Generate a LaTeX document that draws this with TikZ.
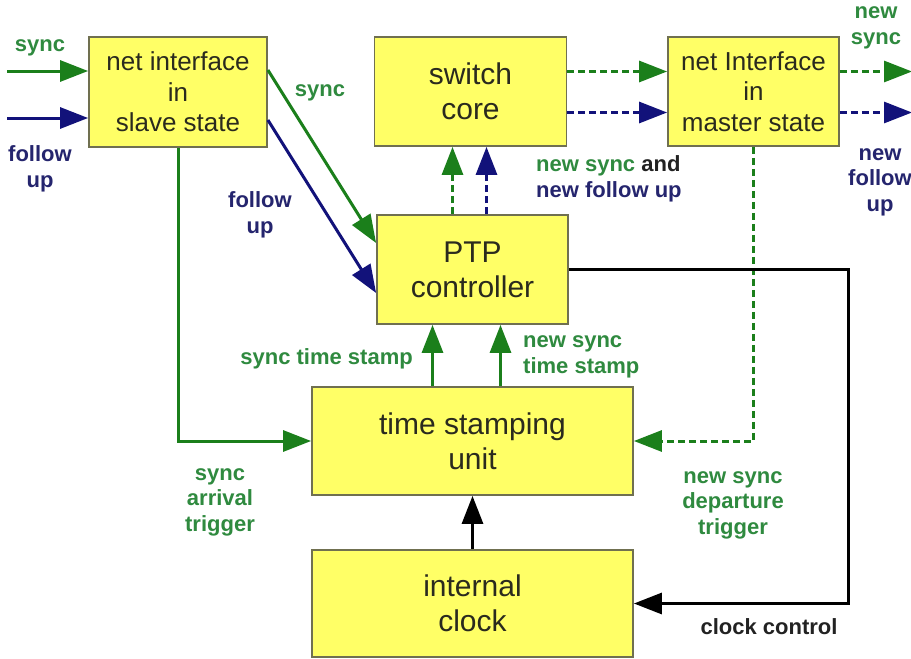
\documentclass[tikz,border=0pt]{standalone}
\usepackage{fontspec}
\setmainfont{Liberation Sans}
\usetikzlibrary{arrows.meta}
\definecolor{boxfill}{HTML}{FFFF66}
\definecolor{boxline}{HTML}{707050}
\definecolor{boxtext}{HTML}{2A2A1E}
\definecolor{agreen}{HTML}{1B7F1B}
\definecolor{lgreen}{HTML}{2F8A3F}
\definecolor{anavy}{HTML}{12127A}
\definecolor{lnavy}{HTML}{25256E}
\definecolor{dark}{HTML}{222222}
\begin{document}
\begin{tikzpicture}[x=1pt,y=-1pt,
  box/.style={draw=boxline, line width=1.8pt, fill=boxfill, align=center, text=boxtext, inner sep=0pt},
  bigtext/.style={font=\fontsize{30}{35}\selectfont},
  iftext/.style={font=\fontsize{26}{30.5}\selectfont},
  lbl/.style={font=\bfseries\fontsize{22}{25.5}\selectfont, align=center, inner sep=0pt},
  conn/.style={line width=3pt, -{Triangle[length=28pt,width=21pt]}},
  dconn/.style={conn, dash pattern=on 7pt off 4pt},
  gconn/.style={conn, draw=agreen},
  bconn/.style={conn, draw=anavy},
  kconn/.style={conn, draw=black},
  gdconn/.style={dconn, draw=agreen},
  bdconn/.style={dconn, draw=anavy}]
\useasboundingbox (0,0) rectangle (911,659);
\fill[white] (0,0) rectangle (911,659);

% boxes
\node[box, iftext, minimum width=178pt, minimum height=110pt] (slave) at (178,92) {net interface\\in\\slave state};
\node[box, bigtext, minimum width=192pt, minimum height=109pt] (switch) at (470.5,91.5) {switch\\core};
\node[box, iftext, minimum width=171pt, minimum height=109pt] (master) at (753.5,91.5) {net Interface\\in\\master state};
\node[box, bigtext, minimum width=191pt, minimum height=109pt] (ptp) at (472.5,269.5) {PTP\\controller};
\node[box, bigtext, minimum width=321pt, minimum height=108pt] (tsu) at (472.5,441) {time stamping\\unit};
\node[box, bigtext, minimum width=321pt, minimum height=107pt] (clock) at (472.5,603.5) {internal\\clock};

% free ends
\coordinate (in1) at (7,71);
\coordinate (in2) at (7,118);
\coordinate (out1) at (912,71.5);
\coordinate (out2) at (912,112.5);
\coordinate (cc) at (848,269.5);

% connectors
\draw[gconn] (in1) -- (in1 -| slave.west);
\draw[bconn] (in2) -- (in2 -| slave.west);
\draw[gconn] ([yshift=22pt]slave.east) -- ([yshift=26.5pt]ptp.west);
\draw[bconn] ([yshift=-28pt]slave.east) -- ([yshift=-23.5pt]ptp.west);
\draw[gconn] (slave.south) |- (tsu.west);
\draw[gdconn] ([xshift=-20pt]ptp.north) -- ([xshift=-20pt]ptp.north |- switch.south);
\draw[bdconn] ([xshift=14pt]ptp.north) -- ([xshift=14pt]ptp.north |- switch.south);
\draw[gdconn] ([yshift=20pt]switch.east) -- ([yshift=20pt]switch.east -| master.west);
\draw[bdconn] ([yshift=-21pt]switch.east) -- ([yshift=-21pt]switch.east -| master.west);
\draw[gdconn] (out1 -| master.east) -- (out1);
\draw[bdconn] (out2 -| master.east) -- (out2);
\draw[gdconn] (master.south) |- (tsu.east);
\draw[gconn] ([xshift=-40pt]tsu.north) -- ([xshift=-40pt]tsu.north |- ptp.south);
\draw[gconn] ([xshift=28pt]tsu.north) -- ([xshift=28pt]tsu.north |- ptp.south);
\draw[kconn] (clock.north) -- (tsu.south);
\draw[kconn] (ptp.east) -- (cc) |- (clock.east);

% labels
\node[lbl, text=lgreen] (l1) at (40,48) {sync};
\node[lbl, text=lnavy] (l2) at (40,169) {follow\\up};
\node[lbl, text=lgreen] (l3) at (320,93) {sync};
\node[lbl, text=lnavy] (l4) at (260,215) {follow\\up};
\node[lbl, align=left, anchor=west, text=dark] (l5) at (536,179) {\textcolor{lgreen}{new sync} and\\\textcolor{lnavy}{new follow up}};
\node[lbl, text=lgreen] (l6) at (876,28) {new\\sync};
\node[lbl, text=lnavy] (l7) at (880,182) {new\\follow\\up};
\node[lbl, anchor=east, text=lgreen] (l8) at (413,359) {sync time stamp};
\node[lbl, align=left, anchor=west, text=lgreen] (l9) at (523,357) {new sync\\time stamp};
\node[lbl, text=lgreen] (l10) at (220,502) {sync\\arrival\\trigger};
\node[lbl, text=lgreen] (l11) at (733,505) {new sync\\departure\\trigger};
\node[lbl, text=dark] (l12) at (769,627) {clock control};
\end{tikzpicture}
\end{document}
